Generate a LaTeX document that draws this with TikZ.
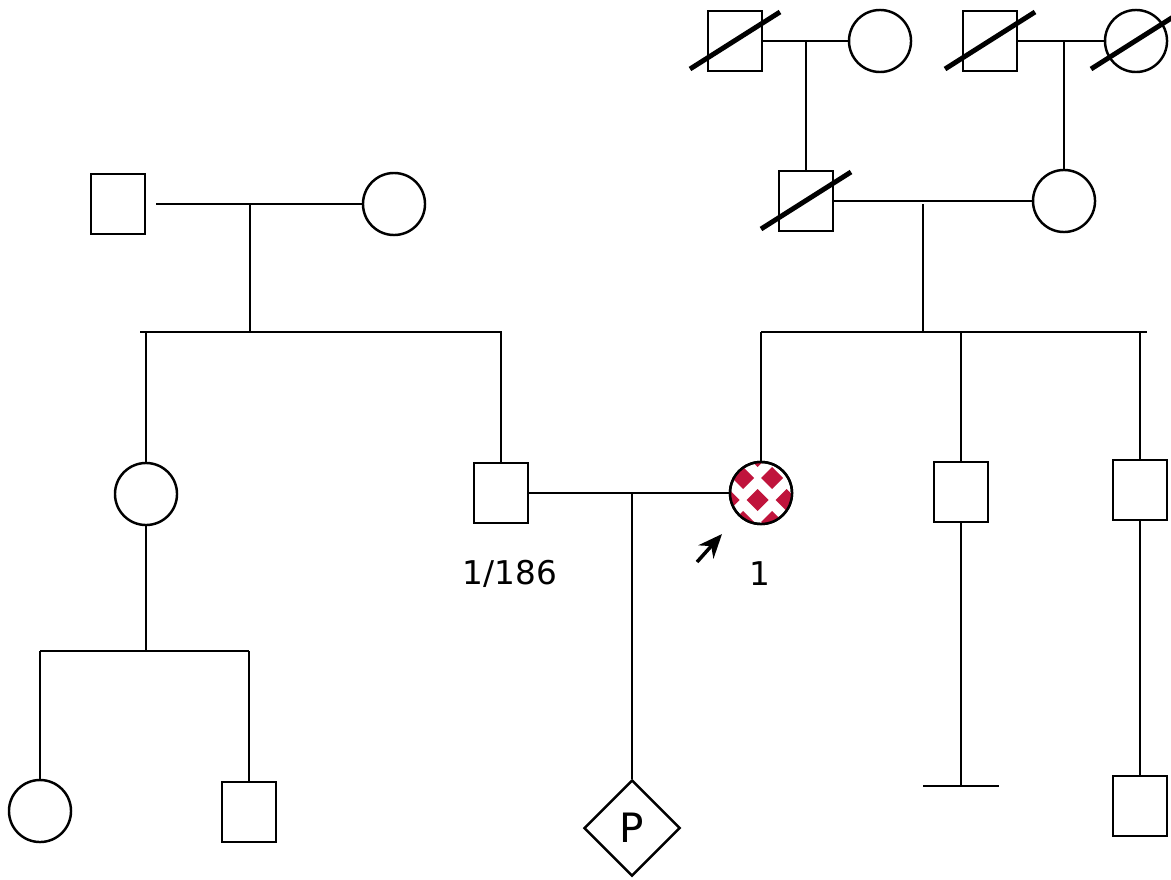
\documentclass[tikz,border=0pt]{standalone}
\usepackage{fontspec}
\setmainfont{DejaVu Sans}
\usetikzlibrary{shapes.geometric, arrows.meta, positioning, calc}
\definecolor{affected}{RGB}{192,20,60}

\tikzset{
  male/.style={draw, rectangle, minimum width=0.54cm, minimum height=0.6cm, inner sep=0pt},
  female/.style={draw, circle, minimum size=0.62cm, inner sep=0pt},
  unknownsex/.style={draw, diamond, minimum width=0.96cm, minimum height=0.96cm, inner sep=0pt,
    font=\fontsize{11.5}{13}\selectfont},
  tagtext/.style={font=\fontsize{9.3}{11}\selectfont},
}
\newcommand{\deceased}[1]{\draw[line width=1.4pt] ($(#1)+(-45,28)$) -- ($(#1)+(45,-29)$);}

\begin{document}
\begin{tikzpicture}[x=0.01cm, y=-0.01cm, line width=0.7pt]
    \useasboundingbox (0,0) rectangle (1171,879);

    % Paternal side
    \node[male]   (gpm) at (118,204) {};
    \node[female] (gpf) at (394,204) {};
    \node[female] (aunt) at (146,494) {};
    \node[male]   (father) at (501,493) {};
    \node[female] (cousinf) at (40,811) {};
    \node[male]   (cousinm) at (249,812) {};

    \draw[shorten <=0.1cm] (gpm) -- (gpf);
    \coordinate (m1) at (250,204);
    \coordinate (s1l) at (140,332);
    \coordinate (s1r) at (501,332);
    \draw (m1) -- (m1 |- s1l);
    \draw (s1l) -- (s1r) -- (father);
    \draw (aunt |- s1l) -- (aunt);

    \coordinate (s2) at (146,651);
    \coordinate (s2l) at (40,651);
    \coordinate (s2r) at (249,651);
    \draw (aunt) -- (s2);
    \draw (s2l) -- (s2r);
    \draw (s2l) -- (cousinf);
    \draw (s2r) -- (cousinm);

    % Maternal side
    \node[male]   (ggf1) at (735,41) {};
    \node[female] (ggm1) at (880,41) {};
    \node[male]   (ggf2) at (990,41) {};
    \node[female] (ggm2) at (1136,41) {};
    \node[male]   (gf) at (806,201) {};
    \node[female] (gm) at (1064,201) {};
    \node[male]   (uncle1) at (961,492) {};
    \node[male]   (uncle2) at (1140,490) {};
    \node[male]   (cousin3) at (1140,806) {};

    \draw (ggf1) -- (ggm1);
    \coordinate (m4) at (806,41);
    \draw (m4) -- (gf);
    \draw (ggf2) -- (ggm2);
    \coordinate (m5) at (1064,41);
    \draw (m5) -- (gm);
    \deceased{ggf1}
    \deceased{ggf2}
    \deceased{ggm2}
    \deceased{gf}

    \draw (gf) -- (gm);
    \coordinate (m6) at (923,204);
    \coordinate (s3l) at (761,332);
    \coordinate (s3r) at (1147,332);
    \draw (m6) -- (m6 |- s3l);
    \draw (s3l) -- (s3r);
    \draw (uncle1 |- s3l) -- (uncle1);
    \draw (uncle2 |- s3l) -- (uncle2);

    \coordinate (nochild) at (961,786);
    \coordinate (barl) at (923,786);
    \coordinate (barr) at (999,786);
    \draw (uncle1) -- (nochild);
    \draw (barl) -- (barr);
    \draw (uncle2) -- (cousin3);

    % Proband
    \node[female, fill=white] (pat) at (761,493) {};
    \begin{scope}
        \clip (pat.center) circle (0.31cm);
        \foreach \r in {0,...,3} {
            \foreach \c in {-1,...,3} {
                \pgfmathsetmacro\dx{\c*29-18+14.5*(1-mod(\r,2))}
                \pgfmathsetmacro\dy{\r*22-37}
                \fill[affected] ($(pat.center)+(\dx,\dy)$)
                    +(-11,0) -- +(0,-11) -- +(11,0) -- +(0,11) -- cycle;
            }
        }
    \end{scope}
    \node[female] at (pat) {};
    \draw (s3l) -- (pat);

    % Couple and child
    \node[unknownsex] (child) at (632,828) {P};
    \draw (father) -- (pat);
    \coordinate (m3) at (632,493);
    \draw (m3) -- (child);

    % Labels
    \node[tagtext] (fathertag) at (510,574) {1/186};
    \node[tagtext] (pattag) at (760,574) {1};
    \coordinate (arrtail) at (697,562);
    \coordinate (arrtip) at (722,534);
    \draw[line width=1pt, -{Stealth[length=2.4mm, width=2mm]}] (arrtail) -- (arrtip);
\end{tikzpicture}
\end{document}
